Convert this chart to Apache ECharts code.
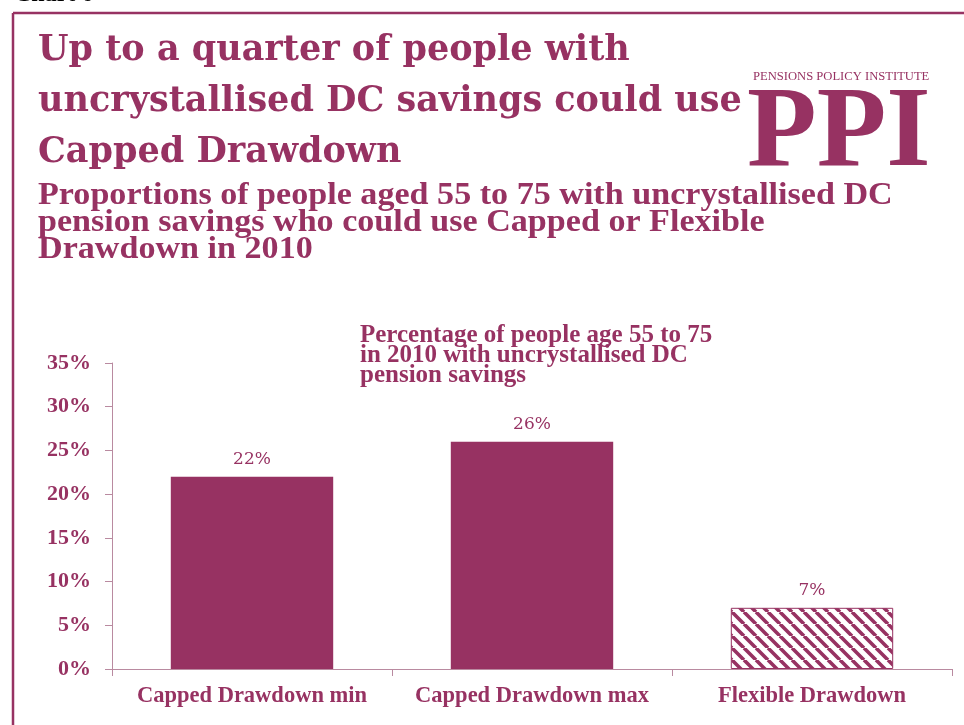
<!DOCTYPE html>
<html>
<head>
<meta charset="utf-8">
<script src="https://cdn.jsdelivr.net/npm/echarts@6/dist/echarts.min.js"></script>
<style>
  html, body { margin: 0; padding: 0; background: #fff; }
  #chart { width: 964px; height: 725px; }
</style>
</head>
<body>
<div id="chart"></div>
<script>
// Drawdown eligibility, people aged 55-75 with uncrystallised DC savings (2010)
var categories = ['Capped Drawdown min', 'Capped Drawdown max', 'Flexible Drawdown'];
var shares = [22, 26, 7];
var yTicks = [0, 5, 10, 15, 20, 25, 30, 35];

var plum = '#973262';
var axisPink = '#b98aa0';
var serif = '"Liberation Serif", "DejaVu Serif", serif';
var wideSerif = '"DejaVu Serif", "Liberation Serif", serif';

// Diagonal hatch used for the flexible drawdown bar
function hatchPattern() {
  var c = document.createElement('canvas');
  var s = 12;
  c.width = s; c.height = s;
  var ctx = c.getContext('2d');
  ctx.fillStyle = '#fff';
  ctx.fillRect(0, 0, s, s);
  ctx.strokeStyle = plum;
  ctx.lineWidth = 3.6;
  ctx.beginPath();
  for (var k = -1; k <= 1; k++) {
    ctx.moveTo(k * s, 0);
    ctx.lineTo(k * s + s, s);
  }
  ctx.stroke();
  return c;
}

var barData = shares.map(function (v, i) {
  if (i === 2) {
    return {
      value: v,
      itemStyle: {
        color: { image: hatchPattern(), repeat: 'repeat' },
        borderColor: plum,
        borderWidth: 1
      }
    };
  }
  return { value: v, itemStyle: { color: plum } };
});

var chart = echarts.init(document.getElementById('chart'), null, { renderer: 'canvas' });

chart.setOption({
  animation: false,
  backgroundColor: '#fff',
  grid: { left: 112, right: 12, top: 363, bottom: 56, containLabel: false },
  xAxis: {
    type: 'category',
    data: categories,
    axisLine: { lineStyle: { color: axisPink, width: 1 } },
    axisTick: { show: true, alignWithLabel: false, length: 7, inside: false, lineStyle: { color: axisPink } },
    axisLabel: {
      interval: 0, hideOverlap: false,
      color: plum, fontFamily: serif, fontWeight: 'bold', fontSize: 22.5, margin: 16
    }
  },
  yAxis: {
    type: 'value',
    min: yTicks[0],
    max: yTicks[yTicks.length - 1],
    interval: 5,
    axisLine: { show: true, lineStyle: { color: axisPink, width: 1 } },
    axisTick: { show: true, length: 7, lineStyle: { color: axisPink } },
    splitLine: { show: false },
    axisLabel: {
      color: plum, fontFamily: serif, fontWeight: 'bold', fontSize: 22, margin: 21,
      formatter: function (v) { return v + '%'; }
    }
  },
  series: [{
    type: 'bar',
    data: barData,
    barWidth: '58%',
    label: {
      show: true,
      position: 'top',
      distance: 9,
      color: plum,
      fontFamily: wideSerif,
      fontSize: 17,
      formatter: function (p) { return p.value + '%'; }
    }
  }],
  graphic: [
    // frame
    { type: 'line', shape: { x1: 13, y1: 13, x2: 964, y2: 13 }, style: { stroke: plum, lineWidth: 2.5 } },
    { type: 'line', shape: { x1: 13, y1: 13, x2: 13, y2: 725 }, style: { stroke: plum, lineWidth: 2.5 } },
    { type: 'text', left: 14, top: -17, style: { text: 'Chart 6', fill: '#000', font: 'bold 24px ' + serif } },
    // headline
    {
      type: 'text', left: 38, top: 25,
      style: {
        text: 'Up to a quarter of people with\nuncrystallised DC savings could use\nCapped Drawdown',
        fill: plum, font: 'bold 35px ' + wideSerif, lineHeight: 51
      }
    },
    // sub-heading
    {
      type: 'text', x: 38, y: 182, scaleX: 1.1,
      style: {
        text: 'Proportions of people aged 55 to 75 with uncrystallised DC\npension savings who could use Capped or Flexible\nDrawdown in 2010',
        fill: plum, font: 'bold 31px ' + serif, lineHeight: 27
      }
    },
    // PPI mark
    {
      type: 'text', left: 753, top: 70,
      style: { text: 'PENSIONS POLICY INSTITUTE', fill: plum, font: '12.6px ' + serif }
    },
    {
      type: 'text', left: 747, top: 79,
      style: { text: 'PPI', fill: plum, font: 'bold 114px ' + serif }
    },
    // series note
    {
      type: 'text', left: 360, top: 323,
      style: {
        text: 'Percentage of people age 55 to 75\nin 2010 with uncrystallised DC\npension savings',
        fill: plum, font: 'bold 25px ' + serif, lineHeight: 20
      }
    }
  ]
});
</script>
</body>
</html>
